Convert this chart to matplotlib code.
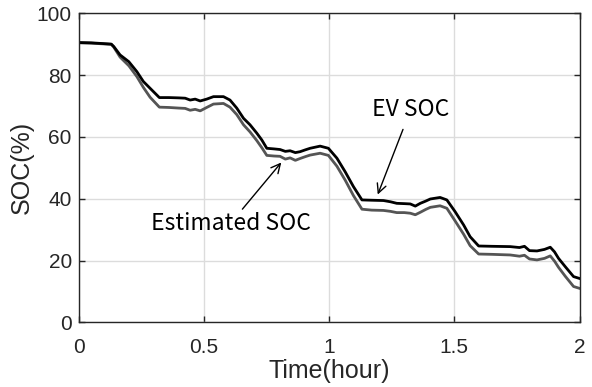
import matplotlib
matplotlib.use("Agg")
import matplotlib.pyplot as plt

# Tiempo de simulación (horas)
tiempo = [0.00, 0.05, 0.13, 0.14, 0.165, 0.20, 0.232, 0.258, 0.285, 0.322,
          0.36, 0.40, 0.425, 0.445, 0.465, 0.485, 0.511, 0.538, 0.578, 0.604,
          0.631, 0.658, 0.684, 0.711, 0.731, 0.751, 0.78, 0.804, 0.825, 0.844,
          0.865, 0.884, 0.905, 0.924, 0.964, 0.997, 1.031, 1.064, 1.097, 1.131,
          1.17, 1.217, 1.245, 1.27, 1.30, 1.324, 1.344, 1.364, 1.385, 1.404,
          1.443, 1.47, 1.503, 1.537, 1.563, 1.597, 1.65, 1.723, 1.76, 1.78,
          1.80, 1.83, 1.86, 1.883, 1.90, 1.916, 1.943, 1.976, 2.00]

# SOC medido del vehículo (%)
soc_ev = [90.5, 90.4, 90.0, 89.2, 86.5, 84.3, 81.1, 77.9, 75.7, 72.7,
          72.7, 72.6, 72.5, 71.9, 72.2, 71.6, 72.2, 73.0, 73.0, 71.9,
          69.3, 66.0, 63.9, 61.2, 59.0, 56.3, 56.1, 55.9, 55.3, 55.5,
          54.9, 55.2, 55.8, 56.3, 57.0, 56.3, 53.1, 48.7, 43.9, 39.6,
          39.5, 39.4, 39.0, 38.5, 38.4, 38.3, 37.6, 38.5, 39.2, 39.9,
          40.4, 39.6, 35.8, 31.5, 27.7, 24.7, 24.6, 24.5, 24.2, 24.6,
          23.2, 23.1, 23.6, 24.3, 22.8, 20.7, 18.0, 14.8, 14.2]

# SOC estimado (%)
soc_est = [90.4, 90.3, 89.9, 89.0, 85.8, 83.0, 79.5, 76.0, 72.8, 69.6,
           69.5, 69.3, 69.2, 68.6, 68.9, 68.4, 69.5, 70.6, 70.8, 69.6,
           67.2, 63.9, 61.6, 58.8, 56.5, 54.0, 53.8, 53.7, 52.8, 53.2,
           52.4, 53.0, 53.6, 54.1, 54.7, 54.0, 50.5, 46.0, 41.0, 36.6,
           36.3, 36.2, 35.9, 35.5, 35.5, 35.3, 34.8, 35.6, 36.5, 37.2,
           37.7, 36.9, 32.8, 28.5, 24.8, 22.1, 22.0, 21.8, 21.4, 21.7,
           20.5, 20.2, 20.7, 21.5, 19.8, 17.8, 14.9, 11.6, 11.0]

x_ticks = [0, 0.5, 1, 1.5, 2]
y_ticks = [0, 20, 40, 60, 80, 100]

plt.rcParams['font.family'] = ['Liberation Sans', 'DejaVu Sans']

fig = plt.figure(figsize=(5.92, 3.87), dpi=100)
ax = fig.add_axes([0.133, 0.167, 0.846, 0.799])

ax.plot(tiempo, soc_est, color='#555555', linewidth=2.0)
ax.plot(tiempo, soc_ev, color='black', linewidth=2.0)

ax.set_xlim(0, 2)
ax.set_ylim(0, 100)
ax.set_xticks(x_ticks)
ax.set_xticklabels(['0', '0.5', '1', '1.5', '2'])
ax.set_yticks(y_ticks)
ax.grid(True, color='#dcdcdc', linewidth=1.0)
ax.set_axisbelow(True)
ax.tick_params(direction='in', top=True, right=True, length=4, width=1,
               color='#262626', labelsize=15, labelcolor='#262626', pad=5)
ax.tick_params(axis='x', pad=11)
for s in ax.spines.values():
    s.set_color('#262626')
    s.set_linewidth(1.0)

ax.set_xlabel('Time(hour)', fontsize=18, color='#262626', labelpad=2)
ax.set_ylabel('SOC(%)', fontsize=18, color='#262626', labelpad=2)

# Etiquetas con flecha
fuente = ['Noto Sans CJK KR', 'DejaVu Sans']
ax.annotate('EV SOC', xy=(1.19, 40.5), xytext=(1.325, 68.7),
            fontsize=16.5, family=fuente, ha='center', va='center',
            arrowprops=dict(arrowstyle='->', color='black', lw=1.0,
                            shrinkA=4))
ax.annotate('Estimated SOC', xy=(0.816, 52.4), xytext=(0.606, 32.0),
            fontsize=16.5, family=fuente, ha='center', va='center',
            arrowprops=dict(arrowstyle='->', color='black', lw=1.0,
                            shrinkA=0))

fig.savefig('out.png', dpi=100)
